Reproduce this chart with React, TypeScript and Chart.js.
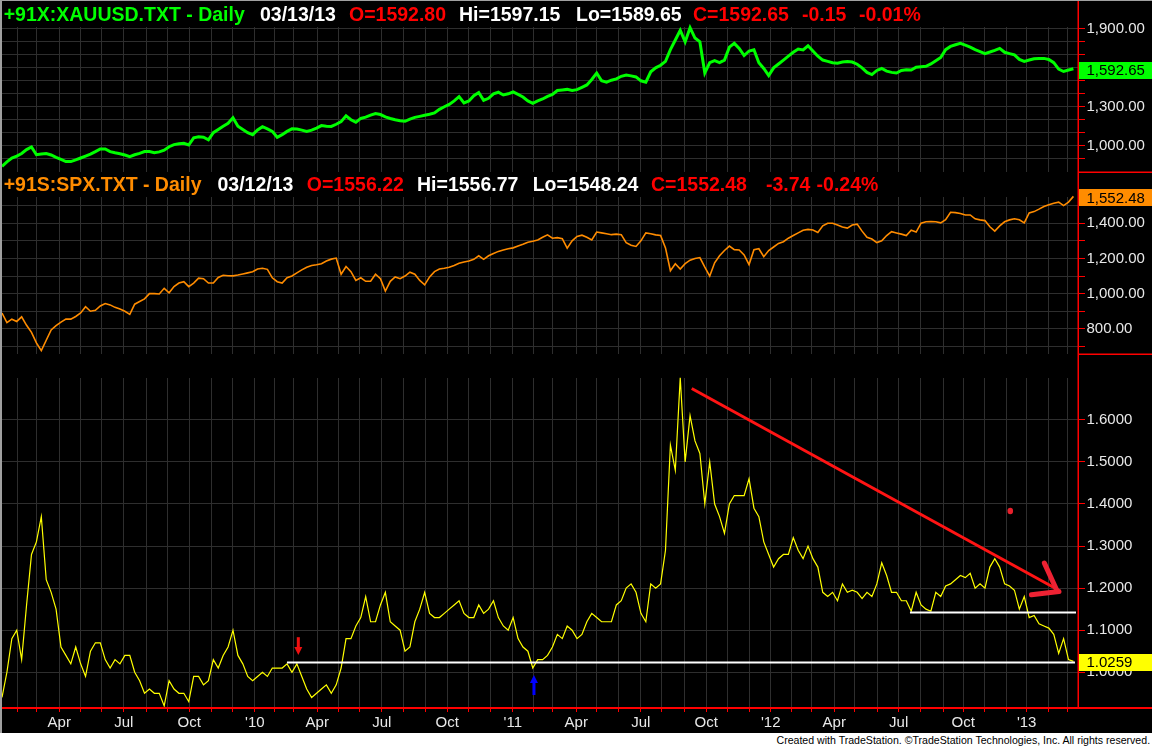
import React, { useEffect, useRef } from 'react';
import { Chart, registerables } from 'chart.js';

Chart.register(...registerables);

// ---------------- data ----------------
// NYSE closed days used to count trading bars on the time axis
const marketHolidays = [
  '2009-01-01', '2009-01-19', '2009-02-16', '2009-04-10', '2009-05-25', '2009-07-03', '2009-09-07', '2009-11-26', '2009-12-25',
  '2010-01-01', '2010-01-18', '2010-02-15', '2010-04-02', '2010-05-31', '2010-07-05', '2010-09-06', '2010-11-25', '2010-12-24',
  '2011-01-17', '2011-02-21', '2011-04-22', '2011-05-30', '2011-07-04', '2011-09-05', '2011-11-24', '2011-12-26',
  '2012-01-02', '2012-01-16', '2012-02-20', '2012-04-06', '2012-05-28', '2012-07-04', '2012-09-03', '2012-10-29', '2012-10-30', '2012-11-22', '2012-12-25',
  '2013-01-01', '2013-01-21', '2013-02-18',
];
const firstTradingDay = '2009-01-02';
const lastCalendarDay = '2013-03-31';

// weekly samples, counted in trading bars since 2009-01-02
const sampleFirstBar = 5.05;
const sampleBarStep = 4.801;
const axisFirstBar = 5.05;
const axisLastBar = 1056.15;

const goldClose = [
  840, 875, 905, 920, 940, 970, 990, 930, 935, 940,
  928, 910, 895, 877, 877, 890, 905, 920, 935, 954,
  975, 975, 954, 945, 938, 928, 915, 930, 941, 955,
  955, 946, 952, 965, 992, 1008, 1015, 1018, 1005, 1060,
  1068, 1065, 1045, 1100, 1125, 1150, 1172, 1215, 1150, 1125,
  1100, 1085, 1121, 1146, 1130, 1110, 1065, 1085, 1110, 1130,
  1128, 1120, 1110, 1120, 1135, 1155, 1150, 1148, 1165, 1185,
  1230, 1200, 1180, 1210, 1220, 1235, 1248, 1240, 1222, 1210,
  1200, 1192, 1188, 1205, 1218, 1226, 1234, 1242, 1252, 1280,
  1300, 1318, 1345, 1378, 1330, 1345, 1385, 1410, 1350, 1365,
  1400, 1412, 1391, 1400, 1414, 1395, 1375, 1345, 1326, 1345,
  1360, 1380, 1395, 1425, 1430, 1434, 1426, 1432, 1450, 1468,
  1510, 1560, 1500, 1490, 1505, 1515, 1535, 1545, 1538, 1530,
  1500, 1490, 1570, 1600, 1620, 1650, 1740, 1815, 1890, 1800,
  1910, 1830, 1800, 1560, 1640, 1655, 1640, 1660, 1760, 1789,
  1750, 1695, 1730, 1740, 1640, 1595, 1540, 1600, 1630, 1660,
  1690, 1720, 1745, 1738, 1770, 1730, 1690, 1660, 1650, 1640,
  1635, 1645, 1648, 1645, 1628, 1600, 1565, 1548, 1580, 1595,
  1575, 1565, 1560, 1580, 1585, 1583, 1605, 1609, 1612, 1630,
  1655, 1680, 1740, 1765, 1778, 1789, 1775, 1760, 1740, 1725,
  1710, 1722, 1735, 1750, 1720, 1710, 1700, 1665, 1650, 1660,
  1670, 1673, 1673, 1665, 1640, 1590, 1572, 1583, 1592.65,
];

const spxClose = [
  890, 835, 855, 842, 868, 820, 780, 720, 676, 735,
  794, 818, 838, 855, 855, 870, 890, 926, 900, 905,
  930, 944, 936, 922, 912, 900, 882, 940, 955, 970,
  1000, 1000, 998, 1030, 1005, 1040, 1060, 1068, 1040, 1060,
  1088, 1085, 1060, 1060, 1092, 1104, 1102, 1101, 1106, 1112,
  1118, 1124, 1140, 1144, 1138, 1090, 1068, 1060, 1090, 1100,
  1118, 1135, 1150, 1160, 1164, 1170, 1185, 1196, 1202, 1110,
  1154, 1125, 1075, 1090, 1070, 1070, 1110, 1085, 1015, 1070,
  1095, 1085, 1100, 1122, 1110, 1075, 1050, 1095, 1125, 1140,
  1144, 1150, 1160, 1172, 1180, 1185, 1195, 1215, 1195, 1215,
  1228, 1240, 1248, 1255, 1260, 1270, 1280, 1292, 1298, 1305,
  1320, 1334, 1315, 1318, 1312, 1258, 1300, 1325, 1332, 1320,
  1305, 1350, 1345, 1340, 1335, 1338, 1335, 1290, 1275, 1268,
  1300, 1345, 1340, 1334, 1330, 1260, 1130, 1170, 1140, 1170,
  1190, 1200, 1205, 1150, 1100, 1175, 1215, 1245, 1270, 1250,
  1248, 1220, 1165, 1250, 1255, 1210, 1245, 1265, 1285, 1295,
  1315, 1330, 1345, 1360, 1365, 1362, 1348, 1385, 1400, 1400,
  1390, 1378, 1372, 1390, 1395, 1355, 1320, 1310, 1290, 1300,
  1330, 1352, 1345, 1338, 1330, 1360, 1350, 1400, 1408, 1410,
  1408, 1402, 1420, 1462, 1460, 1455, 1447, 1447, 1425, 1419,
  1415, 1380, 1355, 1385, 1408, 1419, 1425, 1420, 1402, 1458,
  1466, 1480, 1495, 1505, 1514, 1520, 1500, 1520, 1552.48,
];

const ratioClose = [
  0.94, 1.00, 1.08, 1.10, 1.03, 1.16, 1.28, 1.31, 1.37, 1.22,
  1.19, 1.15, 1.06, 1.04, 1.02, 1.06, 1.02, 0.99, 1.05, 1.07,
  1.07, 1.03, 1.01, 1.03, 1.02, 1.04, 1.04, 1.00, 0.98, 0.95,
  0.96, 0.95, 0.95, 0.92, 0.98, 0.96, 0.95, 0.95, 0.93, 0.99,
  0.99, 0.97, 0.98, 1.03, 1.01, 1.04, 1.06, 1.10, 1.04, 1.02,
  0.99, 0.98, 0.99, 1.00, 0.99, 1.01, 1.01, 1.01, 1.02, 1.00,
  1.02, 0.99, 0.96, 0.94, 0.95, 0.96, 0.97, 0.95, 0.97, 1.01,
  1.08, 1.08, 1.11, 1.13, 1.18, 1.12, 1.12, 1.16, 1.19, 1.12,
  1.11, 1.10, 1.05, 1.06, 1.12, 1.15, 1.19, 1.14, 1.13, 1.13,
  1.14, 1.15, 1.16, 1.17, 1.14, 1.13, 1.13, 1.16, 1.14, 1.15,
  1.17, 1.13, 1.11, 1.10, 1.13, 1.08, 1.06, 1.05, 1.01, 1.03,
  1.03, 1.04, 1.06, 1.09, 1.08, 1.11, 1.10, 1.08, 1.09, 1.12,
  1.14, 1.13, 1.12, 1.12, 1.12, 1.16, 1.17, 1.20, 1.21, 1.19,
  1.14, 1.12, 1.21, 1.20, 1.21, 1.29, 1.54, 1.48, 1.70, 1.50,
  1.61, 1.55, 1.52, 1.40, 1.50, 1.40, 1.37, 1.33, 1.40, 1.42,
  1.42, 1.42, 1.46, 1.39, 1.37, 1.31, 1.28, 1.25, 1.27, 1.28,
  1.28, 1.32, 1.29, 1.27, 1.30, 1.27, 1.25, 1.19, 1.18, 1.19,
  1.17, 1.21, 1.19, 1.195, 1.19, 1.175, 1.19, 1.18, 1.21, 1.26,
  1.23, 1.19, 1.19, 1.17, 1.17, 1.145, 1.19, 1.16, 1.15, 1.145,
  1.19, 1.18, 1.205, 1.21, 1.22, 1.23, 1.225, 1.235, 1.20, 1.21,
  1.20, 1.25, 1.27, 1.25, 1.21, 1.205, 1.195, 1.15, 1.18, 1.13,
  1.135, 1.115, 1.11, 1.105, 1.09, 1.045, 1.08, 1.03, 1.0259,
];

// axis ticks
const goldTicks = [900, 1000, 1100, 1200, 1300, 1400, 1500, 1600, 1700, 1800, 1900];
const goldLabelled = [1000, 1300, 1600, 1900];
const spxTicks = [700, 800, 900, 1000, 1100, 1200, 1300, 1400, 1500];
const spxLabelled = [800, 1000, 1200, 1400];
const ratioTicks = [1.0, 1.1, 1.2, 1.3, 1.4, 1.5, 1.6];
const quarterMonthNames = { 3: 'Apr', 6: 'Jul', 9: 'Oct' } as Record<number, string>;

// header texts
const goldHeader = ['+91X:XAUUSD.TXT - Daily', '03/13/13', 'O=1592.80', 'Hi=1597.15', 'Lo=1589.65', 'C=1592.65', '-0.15', '-0.01%'];
const spxHeader = ['+91S:SPX.TXT - Daily', '03/12/13', 'O=1556.22', 'Hi=1556.77', 'Lo=1548.24', 'C=1552.48', '-3.74', '-0.24%'];
const footerText = 'Created with TradeStation. \u00A9TradeStation Technologies, Inc. All rights reserved.';

// drawn annotations on the ratio panel, in (bar, ratio) units
const supportLines = [
  { fromBar: 283.4, toBar: 1053.2, level: 1.0229 },
  { fromBar: 892.0, toBar: 1054.2, level: 1.142 },
];
const trendLine = [[678.8, 1.6745], [1036.6, 1.196]];
const trendArrowStrokes = [
  [[1023.3, 1.2595], [1036.0, 1.1919]],
  [[1010.7, 1.184], [1037.6, 1.1919]],
];
const redDot = [990.0, 1.3833];
const redDownArrow = { bar: 294.5, tail: 1.0833, tip: 1.0412 };
const blueUpArrow = { bar: 524.7, tail: 0.9483, tip: 0.99357 };

// ---------------- style / layout ----------------
const W = 1152;
const AXIS_W = 74;
const GRID = '#2e2e2e';
const RED = '#ff0000';
const LABEL = '#e8e8e8';
const GREEN = '#00ff00';
const ORANGE = '#ff8c00';
const YELLOW = '#ffff00';
const WHITE = '#ffffff';
const FONT = '"Liberation Sans", Arial, Helvetica, sans-serif';
const headerColorsGold = [GREEN, WHITE, RED, WHITE, WHITE, RED, RED, RED];
const headerColorsSpx = [ORANGE, WHITE, RED, WHITE, WHITE, RED, RED, RED];
const headerXGold = [3.7, 260, 349, 459, 576, 693, 802, 859];
const headerXSpx = [3.7, 217.5, 306.8, 417, 532.7, 651, 766, 816.6];

// ---------------- helpers ----------------
function buildMonthTicks() {
  const hol = new Set(marketHolidays);
  const out: { bar: number; label: string }[] = [];
  const d = new Date(firstTradingDay + 'T00:00:00Z');
  const end = new Date(lastCalendarDay + 'T00:00:00Z').getTime();
  let bar = 0;
  let prevMonth = -1;
  while (d.getTime() <= end) {
    const dow = d.getUTCDay();
    const key = d.toISOString().slice(0, 10);
    if (dow !== 0 && dow !== 6 && !hol.has(key)) {
      const m = d.getUTCMonth();
      if (prevMonth !== -1 && m !== prevMonth) {
        const label = m === 0 ? "'" + String(d.getUTCFullYear()).slice(2) : quarterMonthNames[m] || '';
        out.push({ bar, label });
      }
      prevMonth = m;
      bar++;
    }
    d.setUTCDate(d.getUTCDate() + 1);
  }
  return out.filter((t) => t.bar >= axisFirstBar && t.bar <= axisLastBar);
}
const MONTHS = buildMonthTicks();

function toPoints(values: number[]) {
  return values.map((v, i) => ({ x: sampleFirstBar + i * sampleBarStep, y: v }));
}

const money = (v: number) => v.toLocaleString('en-US', { minimumFractionDigits: 2, maximumFractionDigits: 2 });

function xAxis(withLabels: boolean): any {
  return {
    type: 'linear',
    position: 'bottom',
    min: axisFirstBar,
    max: axisLastBar,
    bounds: 'data',
    afterBuildTicks: (s: any) => {
      s.ticks = MONTHS.map((m) => ({ value: m.bar }));
    },
    afterFit: (s: any) => {
      s.height = withLabels ? 25 : 0;
      s.paddingLeft = 0;
      s.paddingRight = 0;
    },
    ticks: {
      display: withLabels,
      autoSkip: false,
      maxRotation: 0,
      minRotation: 0,
      padding: 2,
      color: LABEL,
      font: { family: FONT, size: 15 },
      callback: (_v: any, i: number) => (MONTHS[i] ? MONTHS[i].label : ''),
    },
    grid: { color: GRID, lineWidth: 1, drawTicks: withLabels, tickLength: 4, tickColor: RED },
    border: { display: false },
  };
}

function yAxis(min: number, max: number, tickValues: number[], label: (v: number) => string): any {
  return {
    type: 'linear',
    position: 'right',
    min,
    max,
    bounds: 'data',
    afterBuildTicks: (s: any) => {
      s.ticks = tickValues.map((v) => ({ value: v }));
    },
    afterFit: (s: any) => {
      s.width = AXIS_W;
      s.paddingTop = 0;
      s.paddingBottom = 0;
    },
    ticks: {
      autoSkip: false,
      padding: 1.5,
      color: LABEL,
      font: { family: FONT, size: 15 },
      callback: (v: any) => label(Number(v)),
    },
    grid: { color: GRID, lineWidth: 1, drawTicks: true, tickLength: 7, tickColor: RED },
    border: { display: false },
  };
}

function drawArrow(ctx: CanvasRenderingContext2D, x: number, yTail: number, yTip: number, color: string) {
  const dir = Math.sign(yTip - yTail);
  const headLen = 8;
  const headHalf = 4;
  const yBase = yTip - dir * headLen;
  ctx.fillStyle = color;
  ctx.fillRect(x - 1.5, Math.min(yTail, yBase), 3, Math.abs(yBase - yTail) + 1);
  ctx.beginPath();
  ctx.moveTo(x - headHalf, yBase);
  ctx.lineTo(x + headHalf, yBase);
  ctx.lineTo(x, yTip);
  ctx.closePath();
  ctx.fill();
}

function drawRatioMarks(chart: any) {
  const { ctx, scales } = chart;
  const X = (b: number) => scales.x.getPixelForValue(b);
  const Y = (v: number) => scales.y.getPixelForValue(v);
  ctx.save();
  ctx.strokeStyle = WHITE;
  ctx.lineWidth = 2;
  supportLines.forEach((l) => {
    ctx.beginPath();
    ctx.moveTo(X(l.fromBar), Y(l.level));
    ctx.lineTo(X(l.toBar), Y(l.level));
    ctx.stroke();
  });
  ctx.strokeStyle = '#ff1414';
  ctx.lineWidth = 3;
  ctx.beginPath();
  ctx.moveTo(X(trendLine[0][0]), Y(trendLine[0][1]));
  ctx.lineTo(X(trendLine[1][0]), Y(trendLine[1][1]));
  ctx.stroke();
  ctx.strokeStyle = '#ee2233';
  ctx.lineWidth = 5;
  ctx.lineCap = 'round';
  trendArrowStrokes.forEach((s) => {
    ctx.beginPath();
    ctx.moveTo(X(s[0][0]), Y(s[0][1]));
    ctx.lineTo(X(s[1][0]), Y(s[1][1]));
    ctx.stroke();
  });
  ctx.fillStyle = '#e8202c';
  ctx.beginPath();
  ctx.ellipse(X(redDot[0]), Y(redDot[1]), 2.8, 3.2, 0, 0, Math.PI * 2);
  ctx.fill();
  drawArrow(ctx, X(redDownArrow.bar), Y(redDownArrow.tail), Y(redDownArrow.tip), '#f01010');
  drawArrow(ctx, X(blueUpArrow.bar), Y(blueUpArrow.tail), Y(blueUpArrow.tip), '#0000ff');
  ctx.restore();
}

function panelPlugin(o: {
  header?: string[];
  headerColors?: string[];
  headerX?: number[];
  baseline?: number;
  lastValue: number;
  lastLabel: string;
  boxColor: string;
  kind: 'top' | 'bottom';
  marks?: (chart: any) => void;
}) {
  return {
    id: 'panelDecor',
    afterDatasetsDraw(chart: any) {
      if (o.marks) o.marks(chart);
    },
    afterDraw(chart: any) {
      const { ctx, chartArea, scales } = chart;
      const w = chart.width;
      const h = chart.height;
      ctx.save();
      ctx.fillStyle = RED;
      if (o.kind === 'top') {
        ctx.fillRect(chartArea.right - 0.5, 0, 1.5, h);
        ctx.fillRect(chartArea.right, chartArea.bottom - 0.5, w - chartArea.right, 1.5);
      } else {
        ctx.fillRect(chartArea.right - 0.5, 0, 1.5, chartArea.bottom);
        ctx.fillRect(0, chartArea.bottom - 1, w, 2);
      }
      // last value box
      const y = scales.y.getPixelForValue(o.lastValue) + 1.5;
      ctx.fillStyle = o.boxColor;
      ctx.fillRect(chartArea.right + 1, Math.round(y - 8.5), w - chartArea.right - 1, 17);
      ctx.fillStyle = '#000000';
      ctx.font = `15px ${FONT}`;
      ctx.textBaseline = 'middle';
      ctx.textAlign = 'left';
      ctx.fillText(o.lastLabel, chartArea.right + 8.5, y + 0.5);
      // header
      if (o.header && o.headerColors && o.headerX && o.baseline !== undefined) {
        ctx.font = `bold 19.5px ${FONT}`;
        ctx.textBaseline = 'alphabetic';
        o.header.forEach((t, i) => {
          ctx.fillStyle = o.headerColors![i];
          ctx.fillText(t, o.headerX![i], o.baseline!);
        });
      }
      ctx.restore();
    },
  };
}

function baseOptions(padding: any, scales: any): any {
  return {
    responsive: false,
    animation: false,
    devicePixelRatio: 1,
    events: [],
    layout: { padding },
    plugins: { legend: { display: false }, tooltip: { enabled: false } },
    scales,
  };
}

function lineDataset(values: number[], color: string, width: number): any {
  return {
    data: toPoints(values),
    borderColor: color,
    borderWidth: width,
    pointRadius: 0,
    tension: 0,
    fill: false,
    clip: false,
  };
}

export default function App() {
  const goldRef = useRef<HTMLCanvasElement>(null);
  const spxRef = useRef<HTMLCanvasElement>(null);
  const ratioRef = useRef<HTMLCanvasElement>(null);

  useEffect(() => {
    const goldLast = goldClose[goldClose.length - 1];
    const spxLast = spxClose[spxClose.length - 1];
    const ratioLast = ratioClose[ratioClose.length - 1];

    const gold = new Chart(goldRef.current as HTMLCanvasElement, {
      type: 'line',
      data: { datasets: [lineDataset(goldClose, GREEN, 3)] },
      options: baseOptions(
        { top: 27, bottom: 4, left: 2, right: 0 },
        {
          x: xAxis(false),
          y: yAxis(797, 1915, goldTicks, (v) => (goldLabelled.includes(Math.round(v)) ? money(v) : '')),
        }
      ),
      plugins: [
        panelPlugin({
          header: goldHeader,
          headerColors: headerColorsGold,
          headerX: headerXGold,
          baseline: 21,
          lastValue: goldLast,
          lastLabel: money(goldLast),
          boxColor: GREEN,
          kind: 'top',
        }),
      ],
    } as any);

    const spx = new Chart(spxRef.current as HTMLCanvasElement, {
      type: 'line',
      data: { datasets: [lineDataset(spxClose, ORANGE, 1.6)] },
      options: baseOptions(
        { top: 21, bottom: 2, left: 2, right: 0 },
        {
          x: xAxis(false),
          y: yAxis(657, 1549, spxTicks, (v) => (spxLabelled.includes(Math.round(v)) ? money(v) : '')),
        }
      ),
      plugins: [
        panelPlugin({
          header: spxHeader,
          headerColors: headerColorsSpx,
          headerX: headerXSpx,
          baseline: 15,
          lastValue: spxLast,
          lastLabel: money(spxLast),
          boxColor: ORANGE,
          kind: 'top',
        }),
      ],
    } as any);

    const ratio = new Chart(ratioRef.current as HTMLCanvasElement, {
      type: 'line',
      data: { datasets: [lineDataset(ratioClose, YELLOW, 1.2)] },
      options: baseOptions(
        { top: 22, bottom: 0, left: 2, right: 0 },
        {
          x: xAxis(true),
          y: yAxis(0.915, 1.6995, ratioTicks, (v) => v.toFixed(4)),
        }
      ),
      plugins: [
        panelPlugin({
          lastValue: ratioLast,
          lastLabel: ratioLast.toFixed(4),
          boxColor: YELLOW,
          kind: 'bottom',
          marks: drawRatioMarks,
        }),
      ],
    } as any);

    return () => {
      gold.destroy();
      spx.destroy();
      ratio.destroy();
    };
  }, []);

  return (
    <div style={{ position: 'fixed', left: 0, top: 0, width: W, height: 748, background: '#000', overflow: 'hidden' }}>
      <canvas ref={goldRef} width={W} height={176} style={{ position: 'absolute', left: 0, top: 0, width: W, height: 176 }} />
      <canvas ref={spxRef} width={W} height={180} style={{ position: 'absolute', left: 0, top: 176, width: W, height: 180 }} />
      <canvas ref={ratioRef} width={W} height={377} style={{ position: 'absolute', left: 0, top: 356, width: W, height: 377 }} />
      <div style={{ position: 'absolute', left: 0, top: 0, width: 2, height: 733, background: '#a0a0a0' }} />
      <div style={{ position: 'absolute', left: 0, top: 0, width: W, height: 1, background: '#a0a0a0' }} />
      <div style={{ position: 'absolute', left: 0, top: 733, width: W, height: 15, background: '#ffffff' }}>
        <div
          style={{
            position: 'absolute',
            right: 2,
            top: 1.5,
            fontFamily: FONT,
            fontSize: '11.5px',
            lineHeight: '11.5px',
            color: '#000',
            whiteSpace: 'nowrap',
            transform: 'scaleX(0.92)',
            transformOrigin: 'right top',
          }}
        >
          {footerText}
        </div>
      </div>
    </div>
  );
}
